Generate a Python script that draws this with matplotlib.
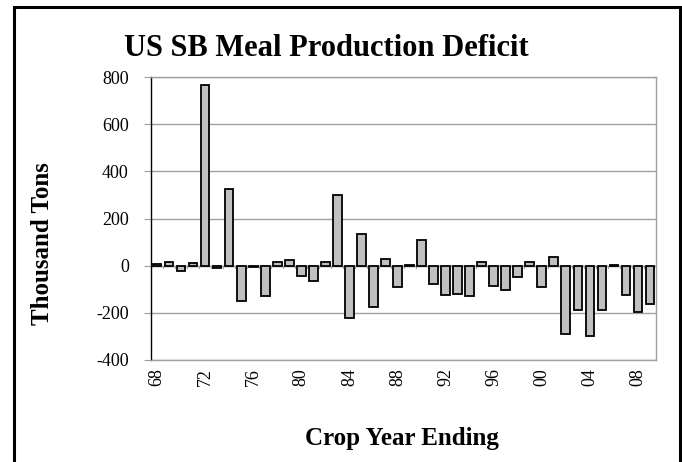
import matplotlib
matplotlib.use("Agg")
import matplotlib.pyplot as plt
from matplotlib.patches import Rectangle

years = [f"{y % 100:02d}" for y in range(1968, 2010)]
values = [7, 14, -21, 13, 768, -11, 326, -149, -5, -127,
          17, 25, -44, -64, 14, 300, -221, 133, -177, 28,
          -89, 4, 109, -79, -123, -120, -127, 17, -86, -105,
          -50, 16, -89, 38, -288, -186, -297, -186, 3, -125,
          -195, -161]
yticks = [-400, -200, 0, 200, 400, 600, 800]

plt.rcParams['font.family'] = ['Liberation Serif', 'DejaVu Serif']

W, H = 682, 462
fig = plt.figure(figsize=(W / 100, H / 100), dpi=100)
ax = fig.add_axes([151 / W, 1 - 360 / H, (656 - 151) / W, (360 - 77) / H])

x = list(range(len(years)))
ax.bar(x, values, width=0.72, color='#c0c0c0', edgecolor='black', linewidth=1.3, zorder=3)

ax.set_ylim(-400, 800)
ax.set_xlim(-0.5, len(years) - 0.5)
ax.set_yticks(yticks)
ax.set_yticklabels([str(v) for v in yticks], fontsize=13)
ax.yaxis.grid(True, color='#a0a0a0', linewidth=1.0, zorder=0)
ax.set_axisbelow(True)

# category axis line at zero with small tick marks between categories
ax.axhline(0, color='#a0a0a0', linewidth=1.0, zorder=2)
for i in range(len(years) + 1):
    ax.plot([i - 0.5, i - 0.5], [0, -12], color='#a0a0a0', linewidth=0.8, zorder=2)

shown = list(range(0, len(years), 4))
ax.set_xticks(shown)
ax.set_xticklabels([years[i] for i in shown], rotation=90, fontsize=13)
ax.tick_params(axis='x', length=0, pad=6)
ax.tick_params(axis='y', length=5, color='#a0a0a0', pad=11)

for side in ['top', 'right', 'bottom']:
    ax.spines[side].set_color('#a0a0a0')
    ax.spines[side].set_linewidth(1.0)
ax.spines['left'].set_color('black')
ax.spines['left'].set_linewidth(1.0)

fig.text(43 / W, 1 - 244 / H, 'Thousand Tons', fontsize=18, fontweight='bold',
         rotation=90, ha='center', va='center')
fig.text(402 / W, 1 - 438 / H, 'Crop Year Ending', fontsize=18, fontweight='bold',
         ha='center', va='center')
fig.text(326 / W, 1 - 48 / H, 'US SB Meal Production Deficit', fontsize=22, fontweight='bold',
         ha='center', va='center')

fig.patches.append(Rectangle((13.5 / W, -0.05), (679.5 - 13.5) / W, 1.05 - 7.5 / H,
                             transform=fig.transFigure, fill=False,
                             edgecolor='black', linewidth=2.2, clip_on=False))

fig.savefig('out.png', dpi=100)
